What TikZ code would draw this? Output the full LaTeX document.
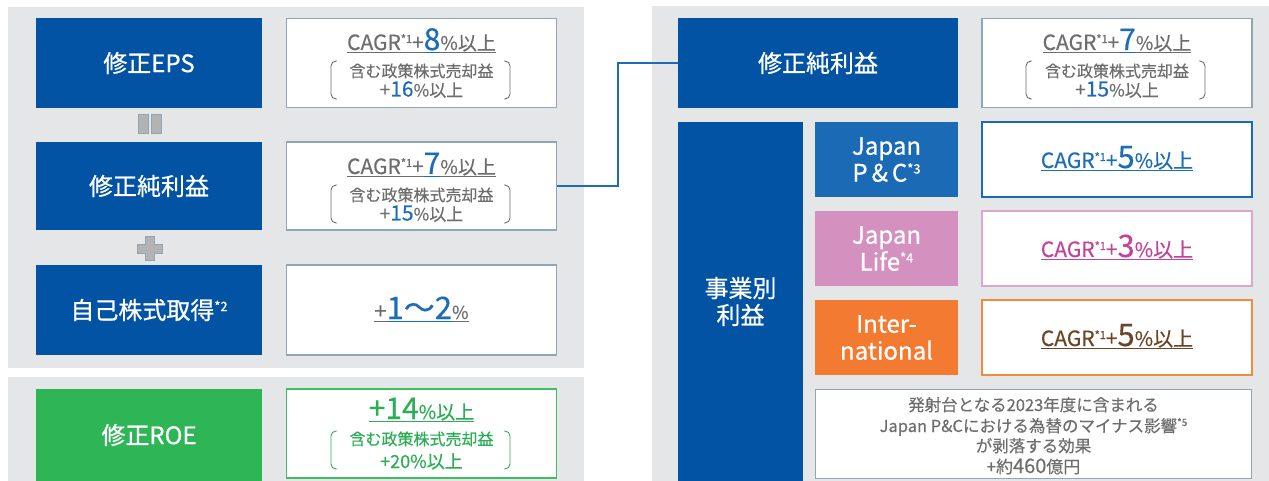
\documentclass[tikz,border=0pt]{standalone}
\usepackage{fontspec}
\setmainfont{Noto Sans CJK JP}
\definecolor{dblue}{RGB}{3,83,164}
\definecolor{mblue}{RGB}{27,106,181}
\definecolor{pinkf}{RGB}{212,144,191}
\definecolor{orangef}{RGB}{243,123,49}
\definecolor{greenf}{RGB}{45,181,86}
\definecolor{greent}{RGB}{45,174,85}
\definecolor{bggray}{RGB}{229,230,232}
\definecolor{bordgray}{RGB}{143,166,182}
\definecolor{tgray}{RGB}{110,110,110}
\definecolor{nblue}{RGB}{28,108,184}
\definecolor{magt}{RGB}{194,68,154}
\definecolor{brownt}{RGB}{107,69,38}
\definecolor{pinkb}{RGB}{221,166,207}
\definecolor{orangeb}{RGB}{242,138,64}
\definecolor{greenb}{RGB}{61,190,95}
\definecolor{eqgray}{RGB}{179,179,179}
\newcommand\fs[1]{\fontsize{#1}{#1}\selectfont}
\newcommand\ulc[2]{\setbox0=\hbox{#2}\rlap{\color{#1}\rule[-3.4pt]{\wd0}{1.3pt}}\box0}
\newcommand\astr[1]{\raisebox{7pt}{\fs{11}*#1}}
\newcommand\cagrline[6]{% #1 text colour, #2 number colour, #3 number, #4 size CAGR, #5 size number, #6 size pct
\ulc{#1}{\textcolor{#1}{\fs{#4}CAGR\astr{1}+}}\ulc{#2}{\textcolor{#2}{\fs{#5}#3}}\ulc{#1}{\textcolor{#1}{\fs{#6}\%以上}}}
\tikzset{
  panel/.style={fill=bggray,draw=none},
  boxb/.style={fill=dblue,text=white,font=\addfontfeature{FakeBold=0.7}\fs{24},align=center,inner sep=0pt},
  twoline/.style={font=\addfontfeature{FakeBold=0.7}\fs{24}\linespread{1.12}\selectfont},
  valbox/.style={draw=bordgray,line width=1.6pt,fill=white,inner sep=0pt},
  txt/.style={anchor=base,inner sep=0pt,font=\addfontfeature{FakeBold=0.35}},
  brk/.style={draw=#1,line width=0.9pt,rounded corners=5pt},
  conn/.style={draw=nblue,line width=2pt},
  eqsym/.style={fill=eqgray,draw=bordgray,line width=1pt}
}
\begin{document}
\begin{tikzpicture}[x=1pt,y=-1pt]
\useasboundingbox (0,0) rectangle (1269,481);
% panels
\fill[panel] (8,7) rectangle (584,368);
\fill[panel] (8,377) rectangle (584,481);
\fill[panel] (652,6) rectangle (1269,481);
% left column boxes
\node[boxb,minimum width=226pt,minimum height=90pt] (eps) at (149,63) {修正EPS};
\node[boxb,minimum width=226pt,minimum height=88pt] (np) at (149,186) {修正純利益};
\node[boxb,minimum width=226pt,minimum height=90pt] (buy) at (149,310) {自己株式取得\raisebox{8pt}{\fs{13}*2}};
\node[boxb,fill=greenf,minimum width=226pt,minimum height=92pt] (roe) at (149,435) {修正ROE};
% equals and plus
\filldraw[eqsym] (138,115) rectangle (148,134);
\filldraw[eqsym] (151,115) rectangle (161,134);
\filldraw[eqsym] (145,237) -- (154,237) -- (154,245) -- (162,245) -- (162,253) -- (154,253) -- (154,260) -- (145,260) -- (145,253) -- (137,253) -- (137,245) -- (145,245) -- cycle;
% left value boxes
\node[valbox,minimum width=270pt,minimum height=89pt] (v1) at (421.5,63) {};
\node[valbox,minimum width=270pt,minimum height=88pt] (v2) at (421.5,186) {};
\node[valbox,minimum width=270pt,minimum height=90pt] (v3) at (421.5,310) {};
\node[valbox,draw=greenb,minimum width=270pt,minimum height=89pt] (v4) at (421.5,433.5) {};
% v1 text
\node[txt] (v1a) at (421.5,50) {\cagrline{tgray}{nblue}{8}{21}{30}{19}};
\node[txt] (v1b) at (421.5,77) {\textcolor{tgray}{\fs{16}含む政策株式売却益}};
\node[txt] (v1c) at (421.5,96.5) {\textcolor{tgray}{\fs{19}+}\textcolor{nblue}{\fs{21}16}\textcolor{tgray}{\fs{17}\%以上}};
\draw[brk=tgray] (337,61) -- (331,61) -- (331,99) -- (337,99);
\draw[brk=tgray] (504,61) -- (510,61) -- (510,99) -- (504,99);
% v2 text
\node[txt] (v2a) at (421.5,174) {\cagrline{tgray}{nblue}{7}{21}{30}{19}};
\node[txt] (v2b) at (421.5,201) {\textcolor{tgray}{\fs{16}含む政策株式売却益}};
\node[txt] (v2c) at (421.5,220.5) {\textcolor{tgray}{\fs{19}+}\textcolor{nblue}{\fs{21}15}\textcolor{tgray}{\fs{17}\%以上}};
\draw[brk=tgray] (337,185) -- (331,185) -- (331,223) -- (337,223);
\draw[brk=tgray] (504,185) -- (510,185) -- (510,223) -- (504,223);
% v3 text
\node[txt] (v3a) at (421.5,319) {\ulc{tgray}{\textcolor{tgray}{\fs{22}+}}\ulc{nblue}{\textcolor{nblue}{\fs{31}1〜2}}\ulc{tgray}{\textcolor{tgray}{\fs{18}\%}}};
% v4 text
\node[txt] (v4a) at (421.5,419) {\ulc{greent}{\textcolor{greent}{\fs{30}+14}\textcolor{greent}{\fs{19}\%以上}}};
\node[txt] (v4b) at (421.5,445) {\textcolor{greent}{\fs{16}含む政策株式売却益}};
\node[txt] (v4c) at (421.5,468) {\textcolor{greent}{\fs{18}+20\%以上}};
\draw[brk=greent] (337,431) -- (331,431) -- (331,469) -- (337,469);
\draw[brk=greent] (504,431) -- (510,431) -- (510,469) -- (504,469);
% right panel
\node[boxb,minimum width=280pt,minimum height=90pt] (rnp) at (818,63) {修正純利益};
\node[valbox,minimum width=270pt,minimum height=89pt] (rv1) at (1117,63) {};
\node[txt] (rv1a) at (1117,50) {\cagrline{tgray}{nblue}{7}{21}{30}{19}};
\node[txt] (rv1b) at (1117,77) {\textcolor{tgray}{\fs{16}含む政策株式売却益}};
\node[txt] (rv1c) at (1117,96.5) {\textcolor{tgray}{\fs{19}+}\textcolor{nblue}{\fs{21}15}\textcolor{tgray}{\fs{17}\%以上}};
\draw[brk=tgray] (1032,61) -- (1026,61) -- (1026,99) -- (1032,99);
\draw[brk=tgray] (1199,61) -- (1205,61) -- (1205,99) -- (1199,99);
% segment column
\node[boxb,twoline,minimum width=125pt,minimum height=359pt] (seg) at (740.5,301.5) {事業別\\利益};
\node[boxb,twoline,fill=mblue,minimum width=143pt,minimum height=75pt] (pc) at (886.5,159.5) {Japan\\P\,\&\,C\raisebox{8pt}{\fs{13}*3}};
\node[boxb,twoline,fill=pinkf,minimum width=143pt,minimum height=75pt] (life) at (886.5,248.5) {Japan\\Life\raisebox{8pt}{\fs{13}*4}};
\node[boxb,twoline,fill=orangef,minimum width=143pt,minimum height=75pt] (intl) at (886.5,337.5) {Inter-\\national};
\node[valbox,draw=mblue,minimum width=270pt,minimum height=75pt] (pcv) at (1117,159.5) {};
\node[valbox,draw=pinkb,minimum width=270pt,minimum height=75pt] (lifev) at (1117,248.5) {};
\node[valbox,draw=orangeb,minimum width=270pt,minimum height=75pt] (intlv) at (1117,337.5) {};
\node[txt] (pcvt) at (1117,168) {\cagrline{nblue}{nblue}{5}{21}{31}{20}};
\node[txt] (lifevt) at (1117,257) {\cagrline{magt}{magt}{3}{21}{31}{20}};
\node[txt] (intlvt) at (1117,346) {\cagrline{brownt}{brownt}{5}{21}{31}{20}};
% note box
\node[valbox,minimum width=436pt,minimum height=89pt] (note) at (1033.5,434) {};
\node[txt] (n1) at (1033.5,411) {\textcolor{tgray}{\fs{16.5}発射台となる2023年度に含まれる}};
\node[txt] (n2) at (1033.5,432) {\textcolor{tgray}{\fs{16.5}Japan P\&Cにおける為替のマイナス影響\raisebox{6pt}{\fs{10}*5}}};
\node[txt] (n3) at (1033.5,452) {\textcolor{tgray}{\fs{16.5}が剥落する効果}};
\node[txt] (n4) at (1033.5,473) {\textcolor{tgray}{\fs{17}+約\fs{20}460\fs{17}億円}};
% connector
\coordinate (bend) at (618,120);
\draw[conn] (v2.east) -| (bend) |- (rnp.west);
\end{tikzpicture}
\end{document}
